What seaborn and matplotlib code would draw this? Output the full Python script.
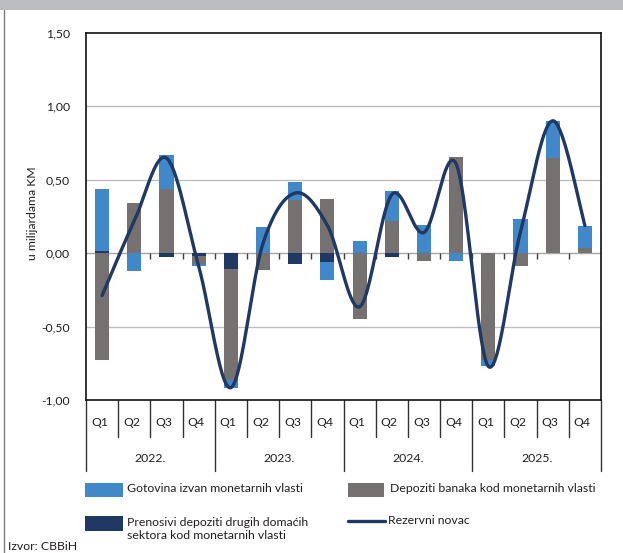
import numpy as np
import matplotlib
matplotlib.use("Agg")
import matplotlib.pyplot as plt
import matplotlib.transforms as mtransforms
from matplotlib.patches import Rectangle
from matplotlib.lines import Line2D
import seaborn as sns

# ---- data (u milijardama KM) ----
years = ["2022.", "2023.", "2024.", "2025."]
quarters = ["Q1", "Q2", "Q3", "Q4"]

gotovina = [0.420, -0.122, 0.234, -0.015,
            -0.050, 0.181, 0.120, -0.124,
            0.082, 0.204, 0.195, -0.050,
            -0.041, 0.231, 0.256, 0.154]
depoziti_banaka = [-0.726, 0.342, 0.437, -0.057,
                   -0.759, -0.113, 0.363, 0.370,
                   -0.447, 0.218, -0.054, 0.658,
                   -0.730, -0.084, 0.646, 0.034]
prenosivi = [0.018, 0.000, -0.023, -0.016,
             -0.107, 0.000, -0.073, -0.057,
             0.000, -0.023, 0.000, 0.000,
             0.000, 0.000, 0.000, 0.000]
rezervni_novac = [-0.288, 0.220, 0.648, -0.088,
                  -0.916, 0.068, 0.410, 0.189,
                  -0.365, 0.399, 0.141, 0.608,
                  -0.771, 0.147, 0.902, 0.188]

y_ticks = [-1.0, -0.5, 0.0, 0.5, 1.0, 1.5]
y_tick_labels = ["-1,00", "-0,50", "0,00", "0,50", "1,00", "1,50"]

legend_labels = ["Gotovina izvan monetarnih vlasti",
                 "Depoziti banaka kod monetarnih vlasti",
                 "Prenosivi depoziti drugih domaćih\nsektora kod monetarnih vlasti",
                 "Rezervni novac"]

C_BLUE = "#4088C9"
C_GREY = "#767171"
C_NAVY = "#1F3864"
C_TEXT = "#231F20"

W, H = 623, 553
sns.set_theme(style="white")
plt.rcParams["font.family"] = ["Lato", "DejaVu Sans"]
plt.rcParams["text.color"] = C_TEXT
FS = 8.8

fig = plt.figure(figsize=(W / 100, H / 100), dpi=100)
fig.patch.set_facecolor("white")


def fx(px):
    return px / W


def fy(py):
    return 1 - py / H


ax = fig.add_axes([fx(86), fy(400), fx(601) - fx(86), fy(33) - fy(400)])

periods = [f"{y} {q}" for y in years for q in quarters]
n = len(periods)

# stack order from zero outward: prenosivi, depoziti, gotovina (separately for + and -)
nav = np.array(prenosivi)
gry = np.array(depoziti_banaka)
blu = np.array(gotovina)
pos1 = np.clip(nav, 0, None)
pos2 = pos1 + np.clip(gry, 0, None)
pos3 = pos2 + np.clip(blu, 0, None)
neg1 = np.clip(nav, None, 0)
neg2 = neg1 + np.clip(gry, None, 0)
neg3 = neg2 + np.clip(blu, None, 0)

bar_kw = dict(order=periods, width=0.44, errorbar=None, saturation=1,
              linewidth=0, ax=ax, zorder=2)
for cum, col in [(pos3, C_BLUE), (neg3, C_BLUE),
                 (pos2, C_GREY), (neg2, C_GREY),
                 (pos1, C_NAVY), (neg1, C_NAVY)]:
    sns.barplot(x=periods, y=cum, color=col, **bar_kw)


# smoothed line through the quarterly values (cubic Bezier, Catmull-Rom handles)
def smooth_curve(xs, ys, steps=40):
    P = np.column_stack([xs, ys]).astype(float)
    E = np.vstack([P[0], P, P[-1]])
    parts = []
    t = np.linspace(0, 1, steps)[:, None]
    for i in range(len(P) - 1):
        p0, p1, p2, p3 = E[i], E[i + 1], E[i + 2], E[i + 3]
        b1 = p1 + (p2 - p0) / 6
        b2 = p2 - (p3 - p1) / 6
        seg = ((1 - t) ** 3) * p1 + 3 * ((1 - t) ** 2) * t * b1 \
            + 3 * (1 - t) * t ** 2 * b2 + t ** 3 * p2
        parts.append(seg if i == 0 else seg[1:])
    return np.vstack(parts)


curve = smooth_curve(np.arange(n), rezervni_novac)
sns.lineplot(x=curve[:, 0], y=curve[:, 1], sort=False, estimator=None,
             color=C_NAVY, linewidth=2.4, ax=ax, zorder=4)

ax.set_xlim(-0.5, n - 0.5)
ax.set_ylim(-1.0, 1.5)
ax.set_xticks([])
ax.set_xlabel("")
ax.set_ylabel("")
ax.set_yticks(y_ticks)
ax.set_yticklabels(y_tick_labels, fontsize=FS, color=C_TEXT)
ax.tick_params(axis="y", length=0, pad=11.5)
ax.grid(False)

for v in [-0.5, 0.5, 1.0]:
    ax.axhline(v, color="#BFBFBF", lw=1.0, zorder=1)
ax.axhline(0.0, color="#A6A6A6", lw=1.0, zorder=1)

# small tick marks on the zero line between quarters
tick_len = 6 / 147
ax.vlines(np.arange(0.5, n - 1, 1.0), -tick_len, 0, color="#404040", lw=1.0, zorder=1)

for sp in ax.spines.values():
    sp.set_visible(True)
    sp.set_color("#111111")
    sp.set_linewidth(1.2)

# two-level category axis below the plot
trans = mtransforms.blended_transform_factory(ax.transData, ax.transAxes)
q_low = (400 - 437) / 367
y_low = (400 - 471) / 367
for b in np.arange(-0.5, n, 1.0):
    is_year = (b + 0.5) % 4 == 0
    ax.plot([b, b], [0, y_low if is_year else q_low], transform=trans,
            color="#333333", lw=1.0, clip_on=False)
for i, p in enumerate(periods):
    ax.text(i - 0.08, (400 - 422) / 367, quarters[i % 4], transform=trans,
            ha="center", va="center", fontsize=FS, color=C_TEXT)
for k, yr in enumerate(years):
    ax.text(4 * k + 1.5, (400 - 458) / 367, yr, transform=trans,
            ha="center", va="center", fontsize=FS, color=C_TEXT)

fig.text(fx(33), fy(213), "u milijardama KM", rotation=90, ha="center",
         va="center", fontsize=FS, color=C_TEXT)

# legend
fig.add_artist(Rectangle((fx(85), fy(497)), fx(123) - fx(85), fy(483) - fy(497),
                         transform=fig.transFigure, color=C_BLUE, lw=0))
fig.add_artist(Rectangle((fx(348), fy(497)), fx(384) - fx(348), fy(483) - fy(497),
                         transform=fig.transFigure, color=C_GREY, lw=0))
fig.add_artist(Rectangle((fx(85), fy(531)), fx(123) - fx(85), fy(516) - fy(531),
                         transform=fig.transFigure, color=C_NAVY, lw=0))
fig.add_artist(Line2D([fx(348), fx(385)], [fy(521), fy(521)],
                      transform=fig.transFigure, color=C_NAVY, lw=2.4))
fig.text(fx(127), fy(489), legend_labels[0], ha="left", va="center", fontsize=FS)
fig.text(fx(390), fy(489), legend_labels[1], ha="left", va="center", fontsize=FS)
fig.text(fx(127), fy(529), legend_labels[2], ha="left", va="center", fontsize=FS,
         linespacing=1.25)
fig.text(fx(388), fy(521), legend_labels[3], ha="left", va="center", fontsize=FS)

fig.text(fx(8), fy(547), "Izvor: CBBiH", ha="left", va="center", fontsize=FS)

# header strip and left frame line
fig.add_artist(Rectangle((0, fy(9.5)), 1, fy(0) - fy(9.5), transform=fig.transFigure,
                         color="#BCBDC1", lw=0))
fig.add_artist(Line2D([fx(3.5), fx(3.5)], [0, fy(9.5)], transform=fig.transFigure,
                      color="#7F7F7F", lw=1.0))

fig.savefig("out.png", dpi=100, facecolor="white")
